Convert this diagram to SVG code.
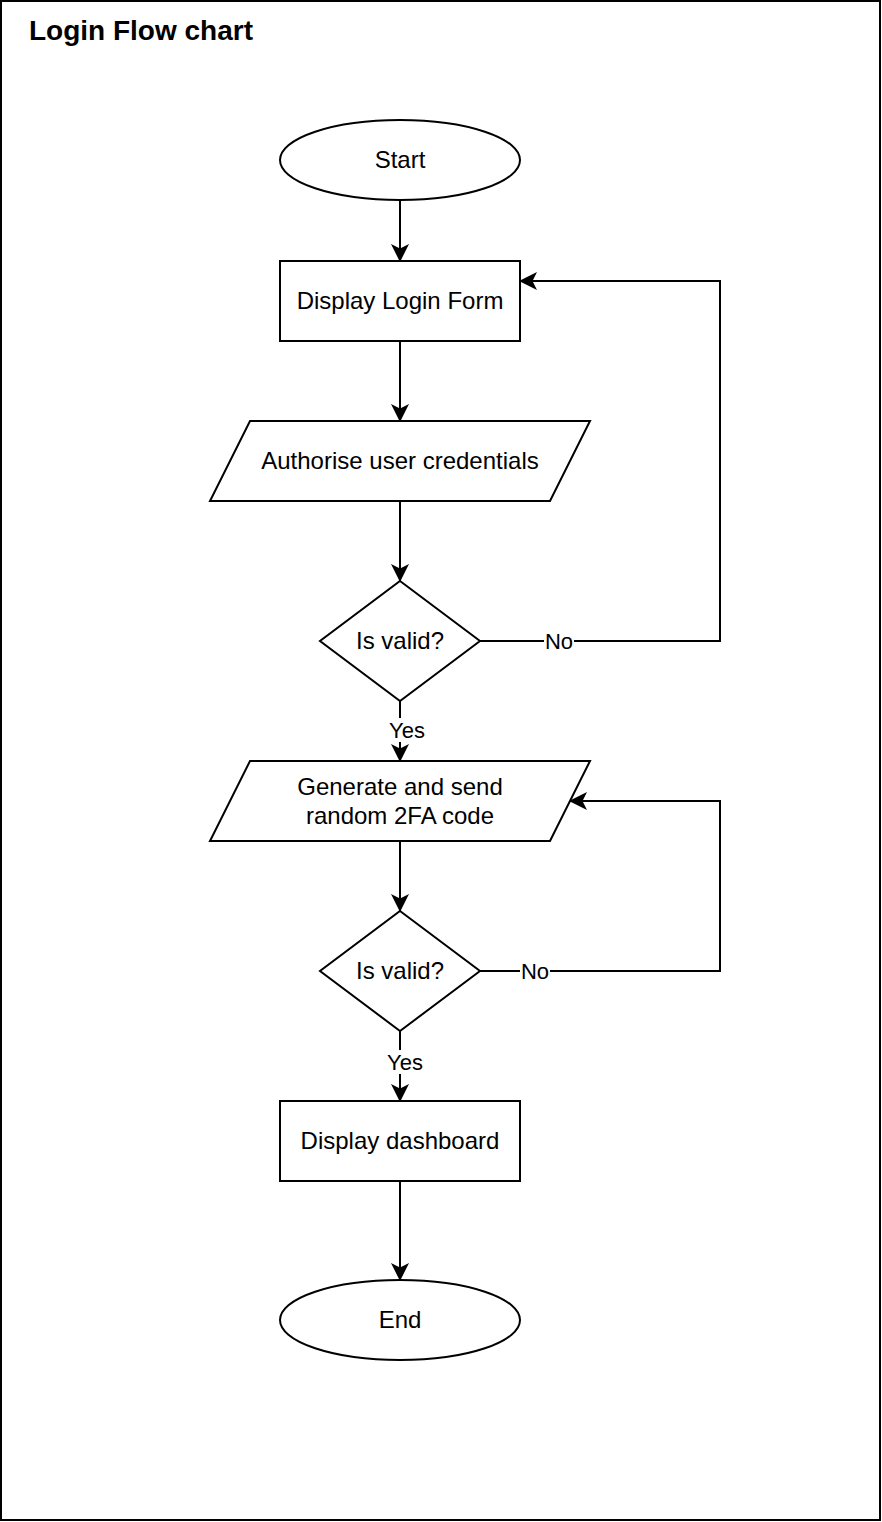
<svg xmlns="http://www.w3.org/2000/svg" width="882" height="1522" viewBox="0 0 882 1522">
  <defs>
    <marker id="arrow" markerUnits="userSpaceOnUse" markerWidth="18" markerHeight="18" viewBox="0 0 18 18" refX="17" refY="9" orient="auto">
      <path d="M18,9 L0,0 L4.5,9 L0,18 Z" fill="#000"/>
    </marker>
  </defs>
  <style>
    .shape { fill: #fff; stroke: #000; stroke-width: 2; }
    .label { font-family: "Liberation Sans", Arial, Helvetica, sans-serif; font-size: 24px; fill: #000; text-anchor: middle; }
    .edge { fill: none; stroke: #000; stroke-width: 2; }
    .edge-label { font-family: "Liberation Sans", Arial, Helvetica, sans-serif; font-size: 22px; fill: #000; text-anchor: middle; }
    .title { font-family: "Liberation Sans", Arial, Helvetica, sans-serif; font-size: 28px; font-weight: bold; fill: #000; }
  </style>

  <!-- frame -->
  <rect x="1" y="1" width="879" height="1519" fill="#fff" stroke="#000" stroke-width="2"/>
  <text class="title" x="29" y="40">Login Flow chart</text>

  <!-- connectors -->
  <g id="connectors">
    <path class="edge" d="M400,200 L400,261" marker-end="url(#arrow)"/>
    <path class="edge" d="M400,341 L400,421" marker-end="url(#arrow)"/>
    <path class="edge" d="M400,501 L400,581" marker-end="url(#arrow)"/>
    <path class="edge" d="M480,641 L720,641 L720,281 L520,281" marker-end="url(#arrow)"/>
    <path class="edge" d="M400,701 L400,761" marker-end="url(#arrow)"/>
    <path class="edge" d="M400,841 L400,911" marker-end="url(#arrow)"/>
    <path class="edge" d="M480,971 L720,971 L720,801 L570,801" marker-end="url(#arrow)"/>
    <path class="edge" d="M400,1031 L400,1101" marker-end="url(#arrow)"/>
    <path class="edge" d="M400,1181 L400,1280" marker-end="url(#arrow)"/>

    <rect x="544" y="629" width="30" height="24" fill="#fff"/>
    <text class="edge-label" x="559" y="649">No</text>
    <rect x="387" y="718" width="40" height="24" fill="#fff"/>
    <text class="edge-label" x="407" y="738">Yes</text>
    <rect x="520" y="959" width="30" height="24" fill="#fff"/>
    <text class="edge-label" x="535" y="979">No</text>
    <rect x="385" y="1050" width="40" height="24" fill="#fff"/>
    <text class="edge-label" x="405" y="1070">Yes</text>
  </g>

  <g id="start">
    <ellipse class="shape" cx="400" cy="160" rx="120" ry="40"/>
    <text class="label" x="400" y="168">Start</text>
  </g>

  <g id="display-login">
    <rect class="shape" x="280" y="261" width="240" height="80"/>
    <text class="label" x="400" y="309">Display Login Form</text>
  </g>

  <g id="authorise">
    <polygon class="shape" points="250,421 590,421 550,501 210,501"/>
    <text class="label" x="400" y="469">Authorise user credentials</text>
  </g>

  <g id="valid-credentials">
    <polygon class="shape" points="400,581 480,641 400,701 320,641"/>
    <text class="label" x="400" y="649">Is valid?</text>
  </g>

  <g id="send-2fa">
    <polygon class="shape" points="250,761 590,761 550,841 210,841"/>
    <text class="label" x="400" y="795">Generate and send</text>
    <text class="label" x="400" y="824">random 2FA code</text>
  </g>

  <g id="valid-2fa">
    <polygon class="shape" points="400,911 480,971 400,1031 320,971"/>
    <text class="label" x="400" y="979">Is valid?</text>
  </g>

  <g id="dashboard">
    <rect class="shape" x="280" y="1101" width="240" height="80"/>
    <text class="label" x="400" y="1149">Display dashboard</text>
  </g>

  <g id="end">
    <ellipse class="shape" cx="400" cy="1320" rx="120" ry="40"/>
    <text class="label" x="400" y="1328">End</text>
  </g>
</svg>
